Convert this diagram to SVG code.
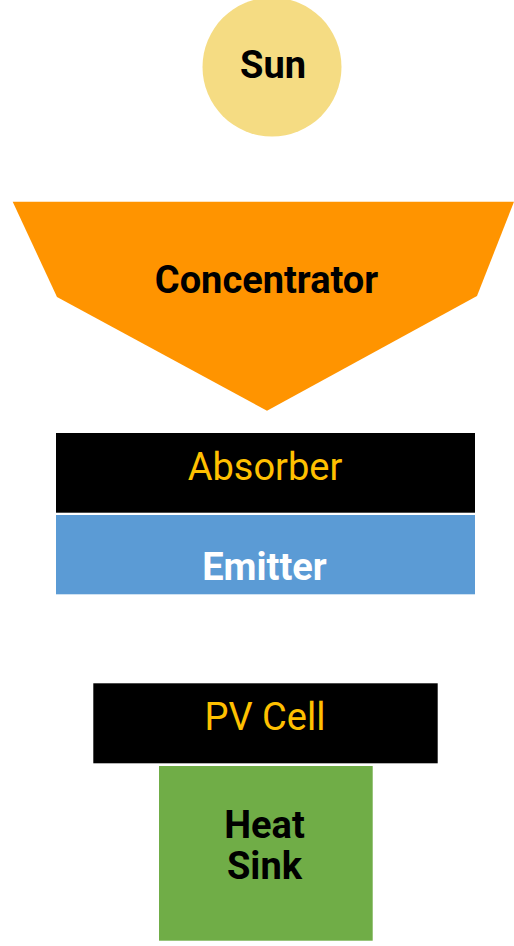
<svg xmlns="http://www.w3.org/2000/svg" width="514" height="946" viewBox="0 0 514 946">
<style>
text{font-family:Roboto,"Liberation Sans",sans-serif;text-anchor:middle;font-size:38px}
.b{font-weight:bold;fill:#000}
.y{fill:#FFC000;font-weight:normal}
.w{fill:#fff;font-weight:bold}
</style>
<rect width="514" height="946" fill="#fff"/>
<g id="sun">
<circle cx="272" cy="67" r="69.5" fill="#F5DC83"/>
<text class="b" x="273" y="77.5">Sun</text>
</g>
<g id="concentrator">
<polygon points="12.7,201.7 514,201.7 477,296 267,410.7 57,297" fill="#FF9400"/>
<text class="b" x="266.5" y="292.5">Concentrator</text>
</g>
<g id="absorber">
<rect x="56" y="433" width="419" height="79.7" fill="#000"/>
<text class="y" x="265" y="479.5" font-size="38.5">Absorber</text>
</g>
<g id="emitter">
<rect x="56" y="515" width="419" height="79.3" fill="#5B9BD5"/>
<text class="w" x="264.5" y="580">Emitter</text>
</g>
<g id="pvcell">
<rect x="93.3" y="683.3" width="344.4" height="80" fill="#000"/>
<text class="y" x="265" y="729.5">PV Cell</text>
</g>
<g id="heatsink">
<rect x="159" y="766" width="213.7" height="174.7" fill="#70AD47"/>
<text class="b" x="264.5" y="837.5">Heat</text>
<text class="b" x="264.5" y="878.5">Sink</text>
</g>
<g id="connectors"/>
</svg>
